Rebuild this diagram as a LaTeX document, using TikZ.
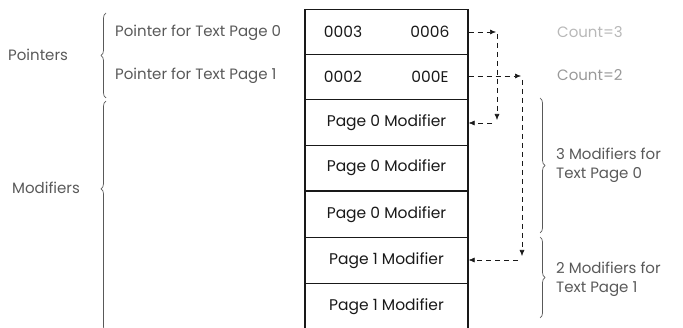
\documentclass[tikz,border=0pt]{standalone}
\usepackage{fontspec}
\setmainfont{Poppins}
\usetikzlibrary{decorations.pathreplacing,arrows.meta}
\definecolor{ink}{gray}{0.1}
\definecolor{lbl}{gray}{0.35}
\definecolor{faint}{gray}{0.6}
\definecolor{vfaint}{gray}{0.72}
\tikzset{
  cell/.style={draw=ink, line width=1.2pt, minimum width=163pt, minimum height=45.5pt, inner sep=0pt, font=\fontsize{15.5}{18}\selectfont, text=ink},
  lab/.style={font=\fontsize{15}{19}\selectfont, inner sep=0pt},
  num/.style={lab, text=ink, font=\fontsize{15.5}{18}\selectfont},
  ptr/.style={draw=ink, dashed, dash pattern=on 5pt off 4pt, line width=0.6pt, -{Latex[length=6pt,width=5pt]}},
  brc/.style={draw=lbl, line width=0.7pt, decorate, decoration={brace, amplitude=5pt}},
}
\begin{document}
\begin{tikzpicture}[x=1pt,y=-1pt]
\useasboundingbox (0,0) rectangle (683,328);
% table rows
\node[cell] (r1) at (386.5,32) {};
\node[cell] (r2) at (386.5,77) {};
\node[cell] (r3) at (386.5,122.5) {Page 0 Modifier};
\node[cell] (r4) at (386.5,168) {Page 0 Modifier};
\node[cell] (r5) at (386.5,214.5) {Page 0 Modifier};
\node[cell] (r6) at (386.5,260.5) {Page 1 Modifier};
\node[cell] (r7) at (386.5,306.5) {Page 1 Modifier};
\node[num] (a1) at (343,32) {0003};
\node[num] (b1) at (430,32) {0006};
\node[num] (a2) at (343,77) {0002};
\node[num] (b2) at (430,77) {000E};
% left labels
\node[lab, text=lbl, anchor=west] (p0) at (115,33) {Pointer for Text Page 0};
\node[lab, text=lbl, anchor=west] (p1) at (115,76) {Pointer for Text Page 1};
\node[lab, text=lbl, anchor=west] (pt) at (8,55) {Pointers};
\node[lab, text=lbl, anchor=west] (md) at (12,188) {Modifiers};
% right labels
\node[lab, text=vfaint, anchor=west] (c3) at (557,32) {Count=3};
\node[lab, text=faint, anchor=west] (c2) at (557,75) {Count=2};
\node[lab, text=lbl, anchor=west, align=left] (m3) at (556,165) {3 Modifiers for\\Text Page 0};
\node[lab, text=lbl, anchor=west, align=left] (m2) at (556,279) {2 Modifiers for\\Text Page 1};
% braces
\coordinate (lb1t) at (106,13); \coordinate (lb1b) at (106,98);
\draw[brc] (lb1b) -- (lb1t);
\coordinate (lb2t) at (106,101); \coordinate (lb2b) at (106,332);
\draw[brc, decoration={brace, amplitude=5pt, aspect=0.62}] (lb2b) -- (lb2t);
\coordinate (rb1t) at (540,98); \coordinate (rb1b) at (540,233);
\draw[brc] (rb1t) -- (rb1b);
\coordinate (rb2t) at (540,237); \coordinate (rb2b) at (540,318);
\draw[brc] (rb2t) -- (rb2b);
% pointer arrows
\coordinate (k1) at (496,32);
\coordinate (k1d) at (497,34);
\coordinate (k1e) at (497,120);
\coordinate (k1s) at (492,123);
\draw[ptr] (r1.east) -- (k1);
\draw[ptr] (k1d) -- (k1e);
\draw[ptr] (k1s) -- (r3.east |- k1s);
\coordinate (k2) at (521,76);
\coordinate (k2d) at (522,80);
\coordinate (k2e) at (522,256);
\coordinate (k2s) at (518,260);
\draw[ptr] (r2.east |- k2) -- (k2);
\draw[ptr] (k2d) -- (k2e);
\draw[ptr] (k2s) -- (r6.east |- k2s);
\end{tikzpicture}
\end{document}
